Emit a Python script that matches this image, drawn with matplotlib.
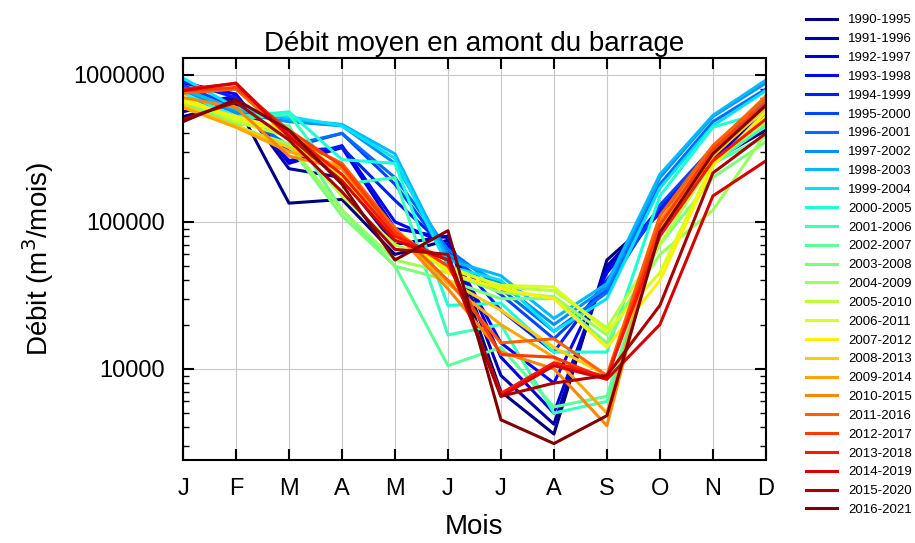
import numpy as np
import matplotlib.pyplot as plt

plt.rcParams['font.family'] = ['Liberation Sans', 'DejaVu Sans']

months = ["J", "F", "M", "A", "M", "J", "J", "A", "S", "O", "N", "D"]

periods = ["%d-%d" % (y, y + 5) for y in range(1990, 2017)]

# monthly mean flow (m3/month) for each 5-year window
s1990 = [520e3, 640e3, 134e3, 142e3, 60e3, 75e3, 7.0e3, 3.6e3, 55e3, 115e3, 260e3, 420e3]
s1991 = [560e3, 700e3, 230e3, 200e3, 70e3, 80e3, 9e3, 4.2e3, 50e3, 120e3, 280e3, 480e3]
s1992 = [600e3, 720e3, 250e3, 320e3, 90e3, 78e3, 12e3, 5e3, 48e3, 115e3, 270e3, 550e3]
s1993 = [880e3, 740e3, 260e3, 330e3, 100e3, 70e3, 15e3, 8e3, 45e3, 125e3, 290e3, 600e3]
s1994 = [900e3, 700e3, 300e3, 320e3, 140e3, 65e3, 25e3, 13e3, 40e3, 120e3, 300e3, 650e3]
s1995 = [850e3, 600e3, 320e3, 400e3, 180e3, 60e3, 32e3, 16e3, 35e3, 130e3, 320e3, 700e3]
s1996 = [820e3, 560e3, 330e3, 400e3, 200e3, 65e3, 35e3, 18e3, 33e3, 180e3, 480e3, 800e3]
s1997 = [780e3, 550e3, 480e3, 450e3, 250e3, 60e3, 38e3, 20e3, 36e3, 200e3, 520e3, 880e3]
s1998 = [800e3, 580e3, 500e3, 460e3, 290e3, 55e3, 43e3, 22e3, 38e3, 210e3, 530e3, 920e3]
s1999 = [950e3, 600e3, 520e3, 450e3, 270e3, 50e3, 40e3, 18e3, 30e3, 170e3, 450e3, 780e3]
s2000 = [750e3, 520e3, 560e3, 265e3, 250e3, 27e3, 28e3, 13e3, 13e3, 150e3, 440e3, 560e3]
s2001 = [700e3, 500e3, 540e3, 180e3, 200e3, 17e3, 20e3, 5e3, 6e3, 80e3, 250e3, 450e3]
s2002 = [650e3, 460e3, 450e3, 120e3, 50e3, 10.5e3, 14e3, 5.5e3, 6.5e3, 90e3, 250e3, 380e3]
s2003 = [640e3, 450e3, 330e3, 110e3, 50e3, 40e3, 30e3, 30e3, 15e3, 70e3, 200e3, 350e3]
s2004 = [620e3, 440e3, 340e3, 120e3, 55e3, 45e3, 33e3, 31e3, 17e3, 60e3, 120e3, 400e3]
s2005 = [680e3, 480e3, 380e3, 150e3, 70e3, 50e3, 36e3, 34e3, 19e3, 70e3, 260e3, 480e3]
s2006 = [700e3, 500e3, 400e3, 200e3, 80e3, 48e3, 37e3, 36e3, 18e3, 45e3, 250e3, 520e3]
s2007 = [660e3, 520e3, 420e3, 210e3, 90e3, 45e3, 35e3, 30e3, 14e3, 40e3, 240e3, 560e3]
s2008 = [620e3, 450e3, 320e3, 230e3, 85e3, 40e3, 25e3, 14e3, 9e3, 90e3, 280e3, 600e3]
s2009 = [600e3, 440e3, 300e3, 240e3, 90e3, 38e3, 20e3, 12e3, 5e3, 100e3, 300e3, 650e3]
s2010 = [700e3, 600e3, 280e3, 230e3, 85e3, 35e3, 13e3, 10e3, 4.1e3, 100e3, 320e3, 720e3]
s2011 = [750e3, 800e3, 380e3, 250e3, 90e3, 40e3, 15e3, 16e3, 9e3, 110e3, 330e3, 700e3]
s2012 = [780e3, 820e3, 420e3, 240e3, 85e3, 50e3, 12.5e3, 12e3, 8.5e3, 95e3, 310e3, 650e3]
s2013 = [800e3, 870e3, 400e3, 210e3, 80e3, 55e3, 6.8e3, 11e3, 8.8e3, 80e3, 260e3, 500e3]
s2014 = [780e3, 880e3, 380e3, 190e3, 75e3, 55e3, 6.5e3, 10.5e3, 8.5e3, 20e3, 150e3, 260e3]
s2015 = [500e3, 650e3, 360e3, 160e3, 65e3, 60e3, 6.5e3, 8e3, 9e3, 27e3, 215e3, 400e3]
s2016 = [480e3, 680e3, 420e3, 180e3, 55e3, 87e3, 4.5e3, 3.1e3, 4.8e3, 85e3, 290e3, 620e3]

series = [s1990, s1991, s1992, s1993, s1994, s1995, s1996, s1997, s1998,
          s1999, s2000, s2001, s2002, s2003, s2004, s2005, s2006, s2007,
          s2008, s2009, s2010, s2011, s2012, s2013, s2014, s2015, s2016]

fig = plt.figure(figsize=(9.15, 5.43), dpi=100)
ax = fig.add_axes([0.2, 0.153, 0.637, 0.740])

colors = plt.cm.jet(np.linspace(0, 1, len(series)))
x = np.arange(len(months))
for vals, lab, c in zip(series, periods, colors):
    ax.plot(x, vals, color=c, lw=2.2, label=lab)

ax.set_yscale("log")
ax.set_ylim(2400, 1.3e6)
ax.set_xlim(0, 11)
ax.set_xticks(x)
ax.set_xticklabels(months)
ax.set_yticks([1e4, 1e5, 1e6])
ax.set_yticklabels(["10000", "100000", "1000000"])
ax.tick_params(axis="both", which="major", direction="in", length=8, width=1.5,
               top=True, right=True, labelsize=17)
ax.tick_params(axis="x", which="major", pad=13)
ax.tick_params(axis="y", which="major", pad=13)
ax.tick_params(axis="y", which="minor", direction="in", length=4, width=1,
               right=True, labelleft=False)
ax.grid(True, which="major", color="#c8c8c8", lw=0.8)
for sp in ax.spines.values():
    sp.set_linewidth(1.5)

ax.set_title("Débit moyen en amont du barrage", fontsize=20, pad=5)
ax.set_xlabel("Mois", fontsize=20, labelpad=10)
ax.set_ylabel("Débit (m$^3$/mois)", fontsize=20, labelpad=12)

fig.legend(loc="upper left", bbox_to_anchor=(0.8736, 0.986), frameon=False,
           borderpad=0, fontsize=9.5, handlelength=2.35, labelspacing=0.5,
           handletextpad=0.83)

fig.savefig("out.png", dpi=100)
